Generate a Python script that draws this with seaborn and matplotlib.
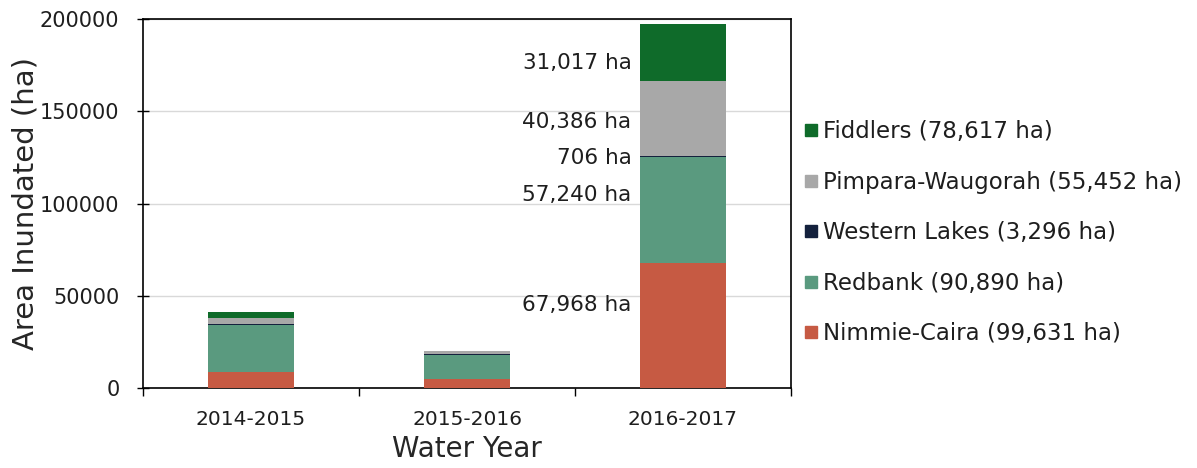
import numpy as np
import pandas as pd
import matplotlib
matplotlib.use("Agg")
import matplotlib.pyplot as plt
import seaborn as sns
from matplotlib.lines import Line2D

years = ["2014-2015", "2015-2016", "2016-2017"]
series_names = ["Nimmie-Caira", "Redbank", "Western Lakes", "Pimpara-Waugorah", "Fiddlers"]
legend_labels = ["Nimmie-Caira (99,631 ha)", "Redbank (90,890 ha)", "Western Lakes (3,296 ha)",
                 "Pimpara-Waugorah (55,452 ha)", "Fiddlers (78,617 ha)"]
nimmie_caira = [8800, 4700, 67968]
redbank = [25300, 13200, 57240]
western_lakes = [600, 500, 706]
pimpara_waugorah = [3400, 1600, 40386]
fiddlers = [3250, 300, 31017]
label_2016 = ["67,968 ha", "57,240 ha", "706 ha", "40,386 ha", "31,017 ha"]
label_y = [45000, 104600, 124650, 144200, 176150]
colors = ["#C65A43", "#5A9A7F", "#14213D", "#A8A8A8", "#0F6B2A"]
yticks = [0, 50000, 100000, 150000, 200000]

sns.set_theme(style="white")
plt.rcParams['font.family'] = ['DejaVu Sans']
plt.rcParams['text.color'] = '#1E1E1E'

fig = plt.figure(figsize=(11.97, 4.68), dpi=100)
ax = fig.add_axes([0.1195, 0.1709, 0.5413, 0.7885])

vals = np.array([nimmie_caira, redbank, western_lakes, pimpara_waugorah, fiddlers], dtype=float)
cum = np.cumsum(vals, axis=0)

for i in range(len(series_names) - 1, -1, -1):
    df = pd.DataFrame({"year": years, "value": cum[i]})
    sns.barplot(data=df, x="year", y="value", color=colors[i], saturation=1,
                width=0.4, errorbar=None, ax=ax, zorder=3, linewidth=0, edgecolor="none")

ax.set_xlim(-0.5, 2.5)
ax.set_ylim(0, 200000)
ax.set_yticks(yticks)
ax.set_yticklabels([str(t) for t in yticks], fontsize=15, color="#1E1E1E")
ax.yaxis.grid(True, color="#D9D9D9", linewidth=1, zorder=0)
ax.set_axisbelow(True)
ax.tick_params(axis="y", direction="inout", length=8, width=1, color="black", left=True, pad=13)
ax.set_xticks(range(len(years)))
ax.set_xticklabels(years, fontsize=14.5, color="#1E1E1E")
ax.tick_params(axis="x", which="major", length=0, pad=16)
ax.set_xticks([-0.5, 0.5, 1.5, 2.5], minor=True)
ax.tick_params(axis="x", which="minor", direction="out", length=6, width=1, color="black", bottom=True)
for s in ax.spines.values():
    s.set_color("black")
    s.set_linewidth(1.2)
ax.set_xlabel("Water Year", fontsize=20, labelpad=4)
ax.set_ylabel("Area Inundated (ha)", fontsize=21, labelpad=0)

for txt, yv in zip(label_2016, label_y):
    ax.annotate(txt, xy=(2 - 0.2, yv), xytext=(-6, 0), textcoords="offset points",
                ha="right", va="center", fontsize=15.5)

handles = [Line2D([0], [0], marker="s", linestyle="none", markersize=9,
                  markerfacecolor=colors[i], markeredgecolor=colors[i])
           for i in range(len(series_names) - 1, -1, -1)]
labs = legend_labels[::-1]
fig.legend(handles, labs, loc="center left", bbox_to_anchor=(0.662, 0.503), frameon=False,
           fontsize=16.5, labelspacing=1.2, handletextpad=0.15, handlelength=0.8,
           borderaxespad=0)

fig.savefig("out.png", dpi=100, facecolor="white")
